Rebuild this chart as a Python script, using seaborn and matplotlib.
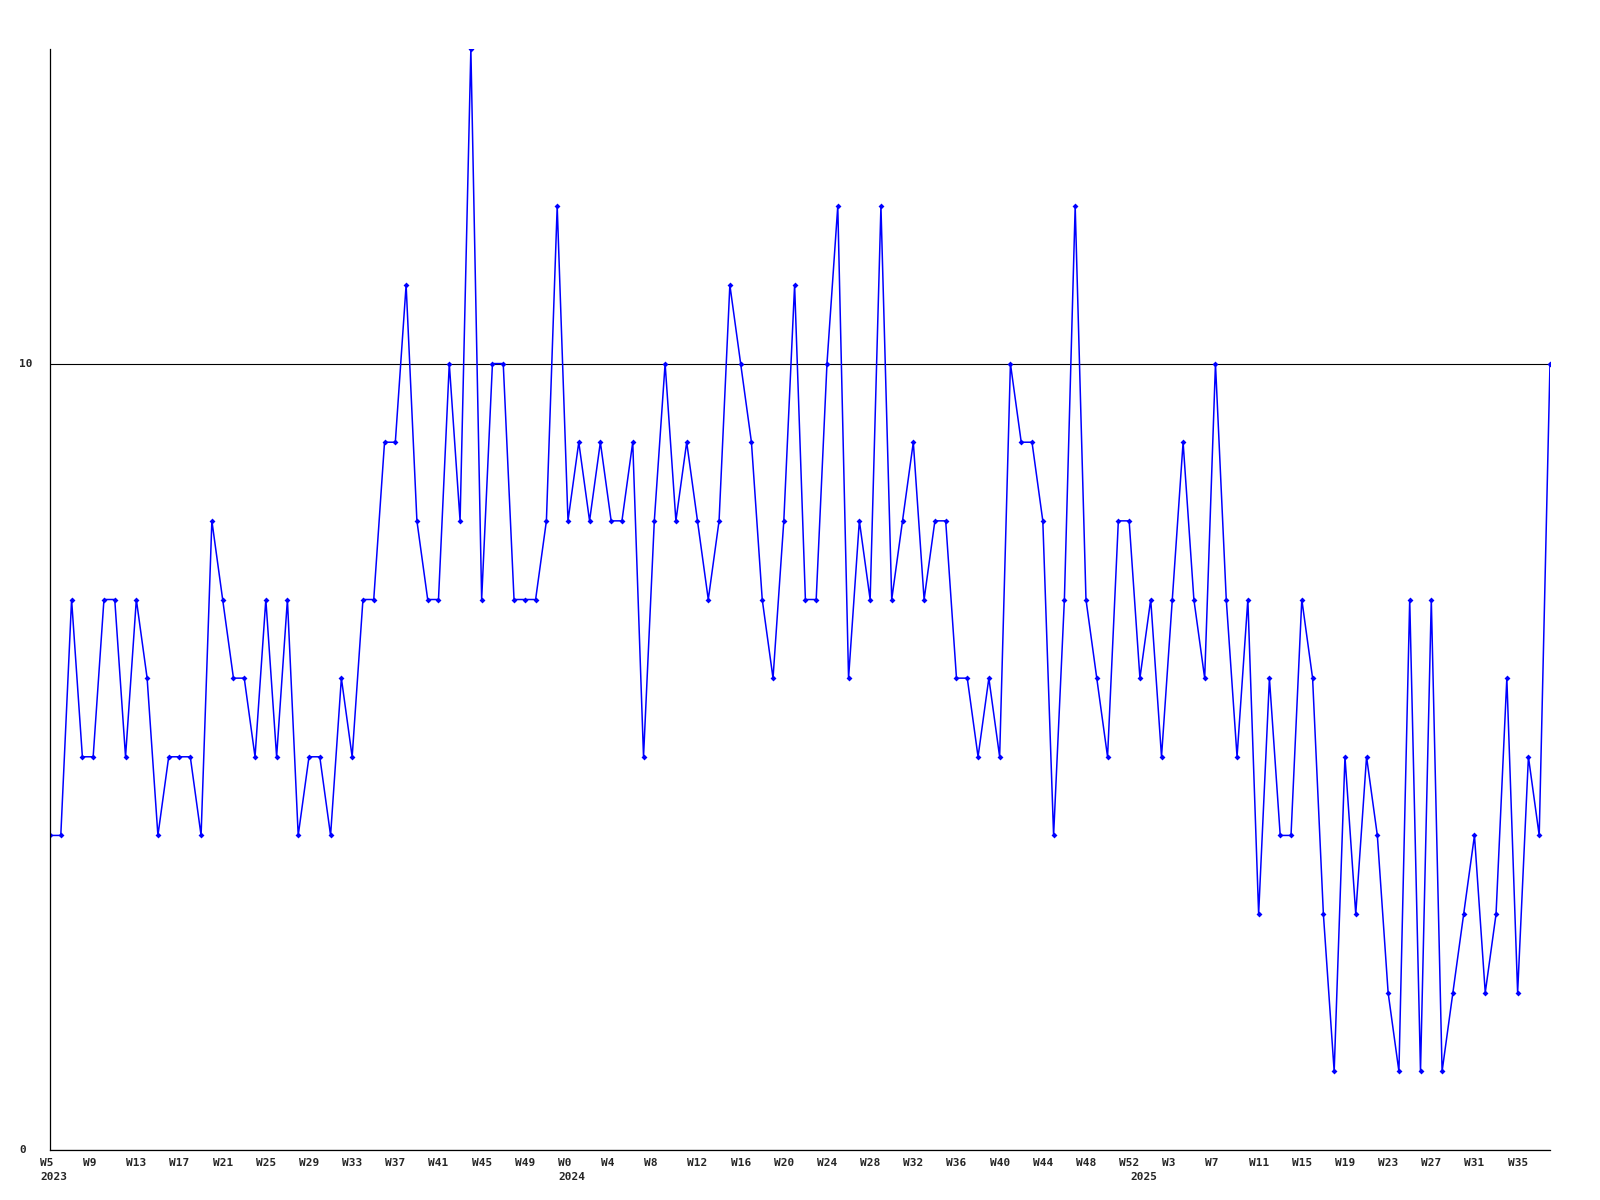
import pandas as pd
import seaborn as sns
import matplotlib.pyplot as plt
from matplotlib.transforms import blended_transform_factory, ScaledTranslation

# weekly counts, 2023 W5 -> 2025 W38
values = [
    4, 4, 7, 5, 5, 7, 7, 5, 7, 6, 4, 5, 5, 5, 4, 8, 7, 6, 6, 5, 7, 5, 7, 4,
    5, 5, 4, 6, 5, 7, 7, 9, 9, 11, 8, 7, 7, 10, 8, 14, 7, 10, 10, 7, 7, 7, 8, 12,
    8, 9, 8, 9, 8, 8, 9, 5, 8, 10, 8, 9, 8, 7, 8, 11, 10, 9, 7, 6, 8, 11, 7, 7,
    10, 12, 6, 8, 7, 12, 7, 8, 9, 7, 8, 8, 6, 6, 5, 6, 5, 10, 9, 9, 8, 4, 7, 12,
    7, 6, 5, 8, 8, 6, 7, 5, 7, 9, 7, 6, 10, 7, 5, 7, 3, 6, 4, 4, 7, 6, 3, 1,
    5, 3, 5, 4, 2, 1, 7, 1, 7, 1, 2, 3, 4, 2, 3, 6, 2, 5, 4, 10,
]

# one label every 4 weeks
week_labels = [
    "W5", "W9", "W13", "W17", "W21", "W25", "W29", "W33", "W37", "W41", "W45", "W49",
    "W0", "W4", "W8", "W12", "W16", "W20", "W24", "W28", "W32", "W36", "W40", "W44",
    "W48", "W52", "W3", "W7", "W11", "W15", "W19", "W23", "W27", "W31", "W35",
]
year_labels = ["2023", "2024", "2025"]
year_start = [0, 48, 101]
y_ticks = [0, 10]

df = pd.DataFrame({"week": range(len(values)), "count": values})

sns.set_style("white")
plt.rcParams["font.family"] = ["DejaVu Sans Mono"]

fig = plt.figure(figsize=(16, 12), dpi=100)
ax = fig.add_axes([50 / 1600, 50 / 1200, 1500 / 1600, 1101 / 1200])

sns.lineplot(data=df, x="week", y="count", ax=ax, color="#0000ff", linewidth=1.1,
             marker="D", markersize=3, markeredgewidth=0)

ax.set_xlim(0, len(values) - 1)
ax.set_ylim(0, 14)
sns.despine(ax=ax)
for s in ["left", "bottom"]:
    ax.spines[s].set_color("black")
    ax.spines[s].set_linewidth(0.9)

ax.set_xticks([])
ax.set_yticks(y_ticks)
ax.set_yticklabels([])
ax.tick_params(length=0)
ax.yaxis.grid(True, color="black", linewidth=0.8)
ax.set_xlabel("")
ax.set_ylabel("")

# x labels: left aligned a little before the point
tx = blended_transform_factory(ax.transData, ax.transAxes)
off_w = ScaledTranslation(-10 / 100, -8 / 100, fig.dpi_scale_trans)
off_y = ScaledTranslation(-10 / 100, -22 / 100, fig.dpi_scale_trans)
for i, lab in enumerate(week_labels):
    ax.text(i * 4, 0, lab, transform=tx + off_w, ha="left", va="top",
            fontsize=8, fontweight="bold")
for pos, lab in zip(year_start, year_labels):
    ax.text(pos, 0, lab, transform=tx + off_y, ha="left", va="top",
            fontsize=8, fontweight="bold")

# y labels
ty = blended_transform_factory(fig.transFigure, ax.transData)
for v in y_ticks:
    ax.text(19 / 1600, v, str(v), transform=ty, ha="left", va="center",
            fontsize=8, fontweight="bold")

fig.savefig("out.png", dpi=100, facecolor="white")
